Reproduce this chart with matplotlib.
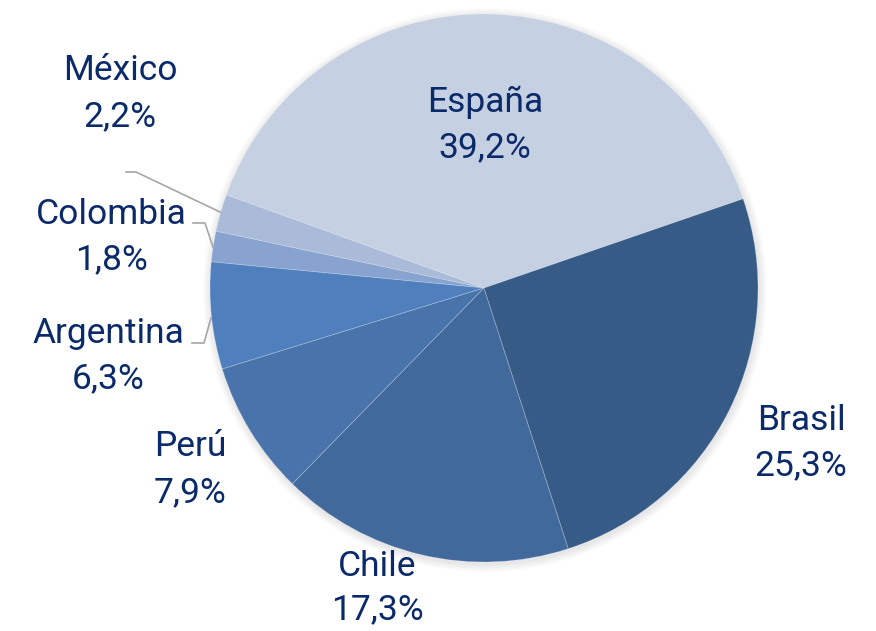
import matplotlib.pyplot as plt
from matplotlib.patches import Circle

countries = ["España", "México", "Colombia", "Argentina", "Perú", "Chile", "Brasil"]
shares = [39.2, 2.2, 1.8, 6.3, 7.9, 17.3, 25.3]
colors = ["#C5D0E2", "#AABAD9", "#88A3CF", "#4F80BD", "#4874AB", "#41699C", "#375B87"]

W, H = 876, 631
fig = plt.figure(figsize=(W / 100, H / 100), dpi=100)
ax = fig.add_axes([0, 0, 1, 1])

cx, cy, r = 484, H - 288, 274

# soft shadow
for k in range(8):
    ax.add_patch(Circle((cx + 1, cy - 2), r + 8 - k, color="#000000", alpha=0.012, lw=0, zorder=0))

ax.pie(shares, colors=colors, startangle=19, counterclock=True, center=(cx, cy), radius=r,
       wedgeprops=dict(edgecolor=(1, 1, 1, 0.25), linewidth=0.6), frame=True)
ax.set_xlim(0, W)
ax.set_ylim(0, H)
ax.set_aspect("equal")
ax.axis("off")

txt = "#0B2A6A"
font = "Roboto"
fs = 25.5

def lab(name, val, x, y1, y2):
    ax.text(x, H - y1, name, ha="center", va="center", color=txt, fontsize=fs, family=font)
    ax.text(x, H - y2, f"{val:.1f}%".replace(".", ","), ha="center", va="center", color=txt, fontsize=fs, family=font)

pos = {
    "España": (485, 102, 148),
    "México": (120, 70, 117),
    "Colombia": (111, 214, 260),
    "Argentina": (108, 333, 379),
    "Perú": (190, 447, 493),
    "Chile": (377, 567, 610),
    "Brasil": (801, 420, 466),
}
for c, v in zip(countries, shares):
    x, y1, y2 = pos[c]
    lab(c, v, x, y1, y2)

lc = "#A6A6A6"
ax.plot([126, 136, 220], [H - 172, H - 172, H - 212], color=lc, lw=1.2)
ax.plot([193, 205, 213], [H - 223, H - 223, H - 247], color=lc, lw=1.2)
ax.plot([192, 204, 211], [H - 343, H - 343, H - 318], color=lc, lw=1.2)

fig.savefig("out.png", dpi=100, facecolor="white")
